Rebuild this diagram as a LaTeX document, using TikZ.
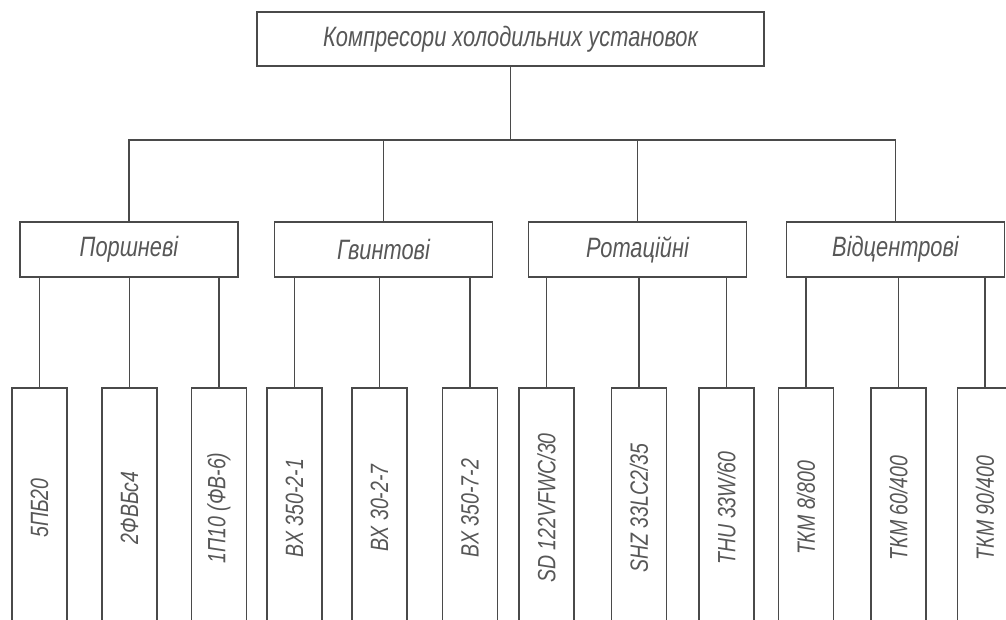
\documentclass[tikz,border=0pt]{standalone}
\usepackage{fontspec}
\setmainfont{Liberation Sans}[FakeStretch=0.78]
\definecolor{ink}{HTML}{4A4A4A}
\definecolor{inktext}{HTML}{575757}
\tikzset{
  link/.style     = {draw=ink,line width=1.1pt},
  topbox/.style   = {link,minimum width=507pt,minimum height=54pt,text=inktext,
                     font=\fontsize{28}{32}\selectfont\itshape},
  groupbox/.style = {link,minimum width=218pt,minimum height=55pt,text=inktext,
                     font=\fontsize{28}{32}\selectfont\itshape},
  modelbox/.style = {link,rotate=90,minimum width=240pt,minimum height=55pt,
                     inner sep=0pt,text=inktext,font=\fontsize{25}{30}\selectfont\itshape}
}

\begin{document}
\begin{tikzpicture}[x=1pt,y=-1pt]
  \clip (0,0) rectangle (1006,619);
  \node[topbox] (top) at (510.5,39) {Компресори холодильних установок};
  \coordinate (bus) at (top.south |- 0,140);

  \node[groupbox] (g1) at (129,249.5)   {Поршневі};
  \node[groupbox] (g2) at (383.5,249.5) {Гвинтові};
  \node[groupbox] (g3) at (637.5,249.5) {Ротаційні};
  \node[groupbox] (g4) at (895.5,249.5) {Відцентрові};

  \node[modelbox] (m1)  at (39.5,508)  {5ПБ20};
  \node[modelbox] (m2)  at (129.5,508) {2ФВБс4};
  \node[modelbox] (m3)  at (219,508)   {1П10 (ФВ-6)};
  \node[modelbox] (m4)  at (294.5,508) {ВХ 350-2-1};
  \node[modelbox] (m5)  at (379.5,508) {ВХ 30-2-7};
  \node[modelbox] (m6)  at (470,508)   {ВХ 350-7-2};
  \node[modelbox] (m7)  at (546.5,508) {SD 122VFWC/30};
  \node[modelbox] (m8)  at (639,508)   {SHZ 33LC2/35};
  \node[modelbox] (m9)  at (726.5,508) {THU 33W/60};
  \node[modelbox] (m10) at (806,508)   {ТКМ 8/800};
  \node[modelbox] (m11) at (898.5,508) {ТКМ 60/400};
  \node[modelbox] (m12) at (985,508)   {ТКМ 90/400};

  \draw[link] (top.south) -- (bus);
  \draw[link] (g1.north) |- (bus) -| (g4.north);
  \draw[link] (bus -| g2.north) -- (g2.north);
  \draw[link] (bus -| g3.north) -- (g3.north);

  \draw[link] (g1.south -| m1) -- (m1.east);
  \draw[link] (g1.south -| m2) -- (m2.east);
  \draw[link] (g1.south -| m3) -- (m3.east);
  \draw[link] (g2.south -| m4) -- (m4.east);
  \draw[link] (g2.south -| m5) -- (m5.east);
  \draw[link] (g2.south -| m6) -- (m6.east);
  \draw[link] (g3.south -| m7) -- (m7.east);
  \draw[link] (g3.south -| m8) -- (m8.east);
  \draw[link] (g3.south -| m9) -- (m9.east);
  \draw[link] (g4.south -| m10) -- (m10.east);
  \draw[link] (g4.south -| m11) -- (m11.east);
  \draw[link] (g4.south -| m12) -- (m12.east);
\end{tikzpicture}
\end{document}
